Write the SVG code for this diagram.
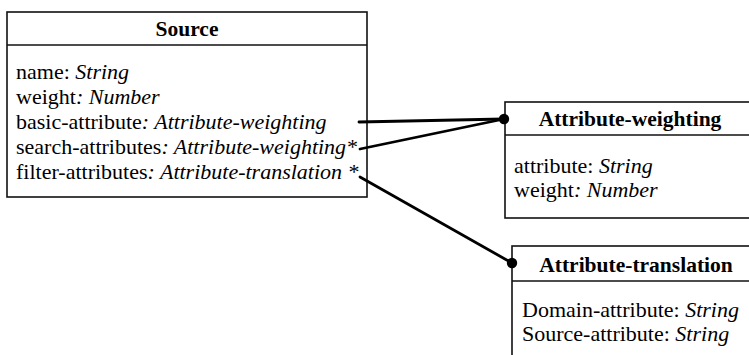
<svg xmlns="http://www.w3.org/2000/svg" width="749" height="355" viewBox="0 0 749 355" font-family="'Liberation Serif', 'Times New Roman', serif">
  <style>
    .box { fill: #fff; stroke: #111; stroke-width: 1.6; }
    .sep { stroke: #111; stroke-width: 1.6; }
    .title { font-family: "Liberation Serif", "Times New Roman", serif; font-size: 21.5px; font-weight: bold; text-anchor: middle; fill: #000; }
    .attr { font-family: "Liberation Serif", "Times New Roman", serif; font-size: 22px; fill: #000; }
    .it { font-family: "Liberation Serif", "Times New Roman", serif; font-style: italic; }
    .link { stroke: #000; stroke-width: 2.8; fill: none; stroke-linecap: round; }
    .end { fill: #000; }
  </style>

  <!-- Source class -->
  <g id="source">
    <rect class="box" x="7" y="12" width="360" height="185"/>
    <line class="sep" x1="7" y1="45" x2="367" y2="45"/>
    <text class="title" x="187" y="36">Source</text>
    <text class="attr" x="16" y="79">name: <tspan class="it">String</tspan></text>
    <text class="attr" x="16" y="104">weight<tspan class="it">: Number</tspan></text>
    <text class="attr" x="16" y="129">basic-attribute<tspan class="it">: Attribute-weighting</tspan></text>
    <text class="attr" x="16" y="154">search-attributes<tspan class="it">: Attribute-weighting*</tspan></text>
    <text class="attr" x="16" y="179">filter-attributes<tspan class="it">: Attribute-translation *</tspan></text>
  </g>

  <!-- Attribute-weighting class -->
  <g id="attribute-weighting">
    <rect class="box" x="505" y="102" width="260" height="116"/>
    <line class="sep" x1="505" y1="135" x2="765" y2="135"/>
    <text class="title" x="630" y="126">Attribute-weighting</text>
    <text class="attr" x="514" y="173">attribute: <tspan class="it">String</tspan></text>
    <text class="attr" x="514" y="197">weight<tspan class="it">: Number</tspan></text>
  </g>

  <!-- Attribute-translation class -->
  <g id="attribute-translation">
    <rect class="box" x="512" y="246" width="260" height="130"/>
    <line class="sep" x1="512" y1="281" x2="772" y2="281"/>
    <text class="title" x="636" y="272">Attribute-translation</text>
    <text class="attr" x="522" y="317">Domain-attribute: <tspan class="it">String</tspan></text>
    <text class="attr" x="522" y="341">Source-attribute: <tspan class="it">String</tspan></text>
  </g>

  <!-- Associations -->
  <g id="connectors">
    <line class="link" x1="359" y1="122" x2="504" y2="119"/>
    <line class="link" x1="360" y1="149" x2="504" y2="119"/>
    <line class="link" x1="360" y1="177" x2="512" y2="263"/>
    <circle class="end" cx="504" cy="119" r="5.2"/>
    <circle class="end" cx="512" cy="263" r="5.2"/>
  </g>
</svg>
